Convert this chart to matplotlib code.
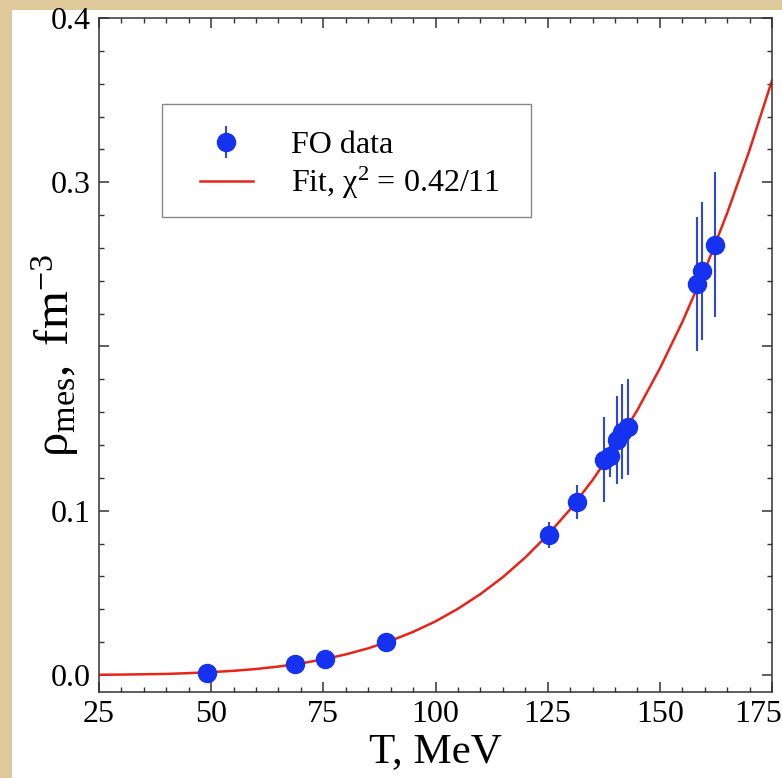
import matplotlib.pyplot as plt
from matplotlib.patches import Rectangle
from matplotlib.ticker import MultipleLocator
from matplotlib.transforms import ScaledTranslation

# FO data points (T in MeV, rho in fm^-3, symmetric errors)
T_data = [49.1, 68.7, 75.4, 88.9, 125.3, 131.5, 137.5, 138.9, 140.4, 141.5, 142.9, 158.3, 159.4, 162.3]
rho_data = [0.001, 0.0067, 0.0098, 0.020, 0.0854, 0.1055, 0.131, 0.133, 0.143, 0.148, 0.151, 0.238, 0.246, 0.262]
rho_err = [0.001, 0.001, 0.001, 0.0015, 0.008, 0.0104, 0.026, 0.0125, 0.027, 0.029, 0.029, 0.041, 0.042, 0.044]

# fit curve
T_fit = [25, 30, 35, 40, 45, 50, 55, 60, 65, 70, 75, 80, 85, 90, 95, 100, 105, 110,
         115, 120, 125, 130, 135, 140, 145, 150, 155, 160, 165, 170, 175]
rho_fit = [0.0001, 0.0002, 0.0004, 0.0006, 0.0011, 0.0017, 0.0025, 0.0036, 0.0051, 0.0070,
           0.0095, 0.0125, 0.0162, 0.0208, 0.0262, 0.0326, 0.0403, 0.0492, 0.0595, 0.0715,
           0.0852, 0.1008, 0.1186, 0.1387, 0.1613, 0.1866, 0.2148, 0.2462, 0.2811, 0.3196, 0.362]

y_ticks = [0.0, 0.1, 0.2, 0.3, 0.4]
y_ticklabels = ['0.0', '0.1', '', '0.3', '0.4']
x_ticks = [25, 50, 75, 100, 125, 150, 175]

plt.rcParams['font.family'] = ['Liberation Serif', 'DejaVu Serif']
plt.rcParams['mathtext.fontset'] = 'custom'
plt.rcParams['mathtext.rm'] = 'Liberation Serif'
plt.rcParams['mathtext.it'] = 'Liberation Serif:italic'

W, H = 782, 778
fig = plt.figure(figsize=(W / 100, H / 100), dpi=100)
fig.patch.set_facecolor('#dfc89a')
fig.patches.append(Rectangle((12 / W, 0), 1, 1 - 10 / H, transform=fig.transFigure,
                             facecolor='white', edgecolor='none', zorder=-10))

ax = fig.add_axes([99 / W, 1 - 692 / H, 673 / W, 674 / H])
ax.set_facecolor('white')

ax.plot(T_fit, rho_fit, color='#e8231a', lw=1.8, zorder=2, label=r'Fit, $\mathrm{\chi}^{2}$ = 0.42/11')
ax.errorbar(T_data, rho_data, yerr=rho_err, fmt='o', color='#1432f0', ecolor='#3046e0',
            elinewidth=1.5, capsize=0, markersize=13, zorder=3, label='FO data')

ax.set_xlim(25, 175)
ax.set_ylim(-0.0104, 0.4)
ax.set_xticks(x_ticks)
ax.set_yticks(y_ticks)
ax.set_yticklabels(y_ticklabels)
ax.xaxis.set_minor_locator(MultipleLocator(5))
ax.yaxis.set_minor_locator(MultipleLocator(0.02))
ax.tick_params(which='both', direction='in', top=True, right=True, colors='#333333',
               labelcolor='black', labelsize=23)
ax.tick_params(which='major', length=7, width=1.1, pad=6)
ax.tick_params(which='minor', length=3.6, width=1.0)
for s in ax.spines.values():
    s.set_color('#333333')
    s.set_linewidth(1.1)

# last x label sits a bit left so it fits in the picture
last = ax.get_xticklabels()[-1]
last.set_transform(last.get_transform() + ScaledTranslation(-14 / 100, 0, fig.dpi_scale_trans))

ax.set_xlabel('T, MeV', fontsize=31, labelpad=2)
ax.set_ylabel(r'$\mathrm{\rho_{mes},}$ fm$^{-3}$', fontsize=35)
ax.yaxis.set_label_coords(-0.027, 0.5)

# legend box drawn by hand, entries placed inside it
ax.add_patch(Rectangle(((162 - 99) / 673, (692 - 217) / 674), 369 / 673, 113 / 674,
                       transform=ax.transAxes, facecolor='white', edgecolor='#888888',
                       lw=1.0, zorder=4))
handles, labels = ax.get_legend_handles_labels()
leg = ax.legend(handles[::-1], labels[::-1], loc='upper left',
                bbox_to_anchor=((200 - 99) / 673, (692 - 131) / 674), borderaxespad=0,
                borderpad=0, fontsize=23, frameon=False, handlelength=1.65,
                handletextpad=1.2, labelspacing=0.15)
leg.set_zorder(5)

fig.savefig('out.png', dpi=100, facecolor=fig.get_facecolor())
